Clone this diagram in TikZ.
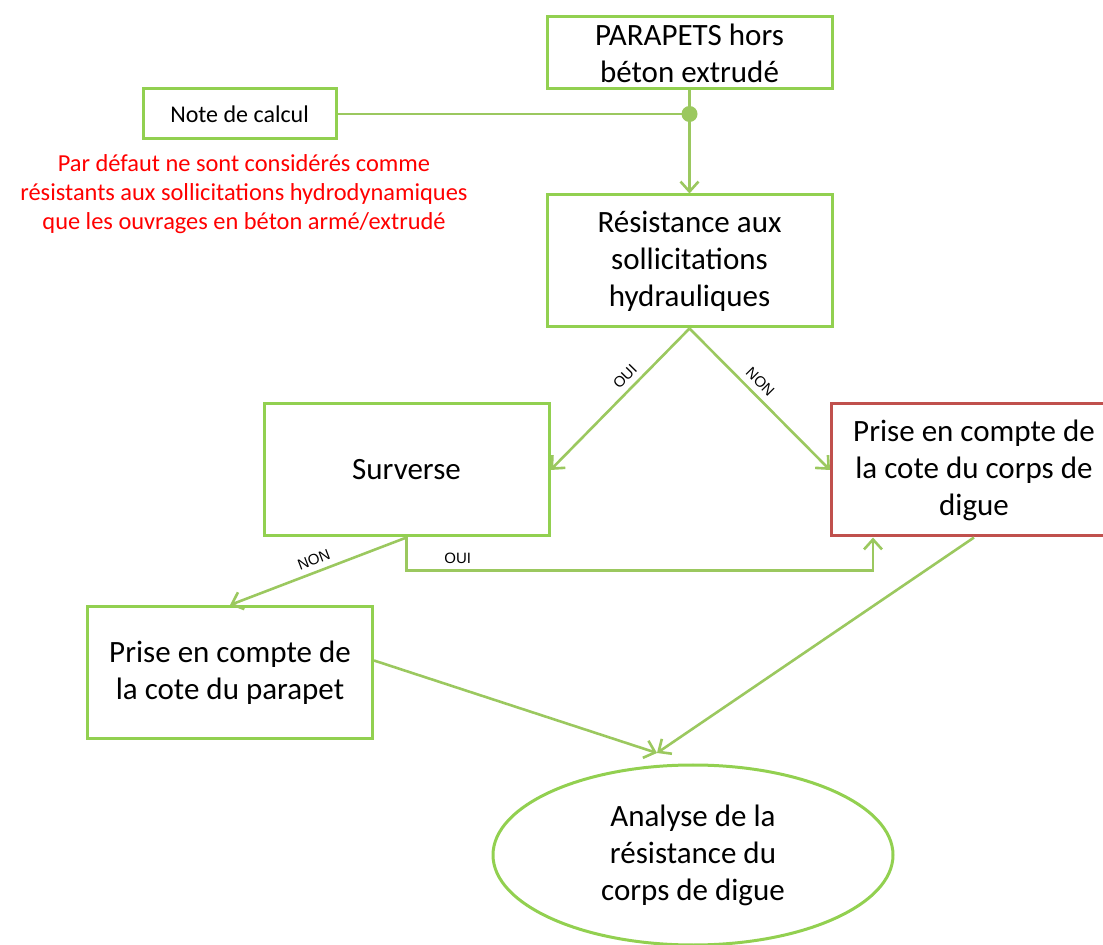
\documentclass[tikz,border=0pt]{standalone}
\usepackage{fontspec}
\setmainfont{Carlito}
\newfontfamily\labelfont{Liberation Sans}
\usetikzlibrary{positioning,shapes.geometric,arrows.meta,calc}
\definecolor{boxgreen}{RGB}{146,208,80}
\definecolor{linkgreen}{RGB}{155,200,95}
\definecolor{boxred}{RGB}{192,80,77}

\begin{document}
\begin{tikzpicture}[x=0.5pt, y=-0.5pt, >={Straight Barb[length=5pt,width=9pt]},
    box/.style={draw=boxgreen, line width=1.5pt, minimum width=142.5pt, minimum height=66pt,
        inner sep=1pt, align=center, font=\fontsize{15.5}{18.5}\selectfont},
    conn/.style={draw=linkgreen, line width=1.3pt, ->},
    link/.style={draw=linkgreen, line width=1.3pt},
    lbl/.style={font=\labelfont\fontsize{7.5}{8.5}\selectfont, inner sep=3pt}]
    \useasboundingbox (0,0) rectangle (1103,945);

    % Boxes
    \node[box, minimum height=36pt] (parapets) at (689.5,53) {PARAPETS hors\\béton extrudé};
    \node[box, minimum width=96.5pt, minimum height=25pt, font=\fontsize{12}{14}\selectfont] (note) at (239.5,114) {Note de calcul};
    \node[align=center, text=red, font=\fontsize{12.2}{14.5}\selectfont] (defaut) at (244,194)
        {Par défaut ne sont considérés comme\\résistants aux sollicitations hydrodynamiques\\que les ouvrages en béton armé/extrudé};
    \node[box] (resist) at (689.5,261) {Résistance aux\\sollicitations\\hydrauliques};
    \node[box] (surv) at (406.5,470) {Surverse};
    \node[box, draw=boxred] (corps) at (974,470) {Prise en compte de\\la cote du corps de\\digue};
    \node[box] (cotepar) at (230,672.5) {Prise en compte de\\la cote du parapet};
    \node[box, ellipse, minimum width=200pt, minimum height=90pt] (analyse) at (693,855)
        {Analyse de la\\résistance du\\corps de digue};

    % Junction dot
    \coordinate (dot) at (parapets.south |- note.east);
    \coordinate (meet) at (657,753);

    % Connectors
    \draw[link] (note.east) -- (dot);
    \draw[conn] (parapets.south) -- (resist.north);
    \fill[linkgreen] (dot) circle (8);
    \draw[conn] (resist.south) -- node[lbl, sloped, above, pos=0.4] {OUI} (surv.east);
    \draw[conn] (resist.south) -- node[lbl, sloped, above, pos=0.44] {NON} (corps.west);
    \draw[conn] (surv.south) -- node[lbl, sloped, above, pos=0.5] {NON} (cotepar.north);
    \draw[conn] (surv.south) -- ++(0,33) -| node[lbl, pos=0.055, above] {OUI} ($(corps.south west)+(43,0)$);
    \draw[conn] ($(cotepar.east)+(0,-12)$) -- (meet);
    \draw[conn] (corps.south) -- (meet);
\end{tikzpicture}
\end{document}
